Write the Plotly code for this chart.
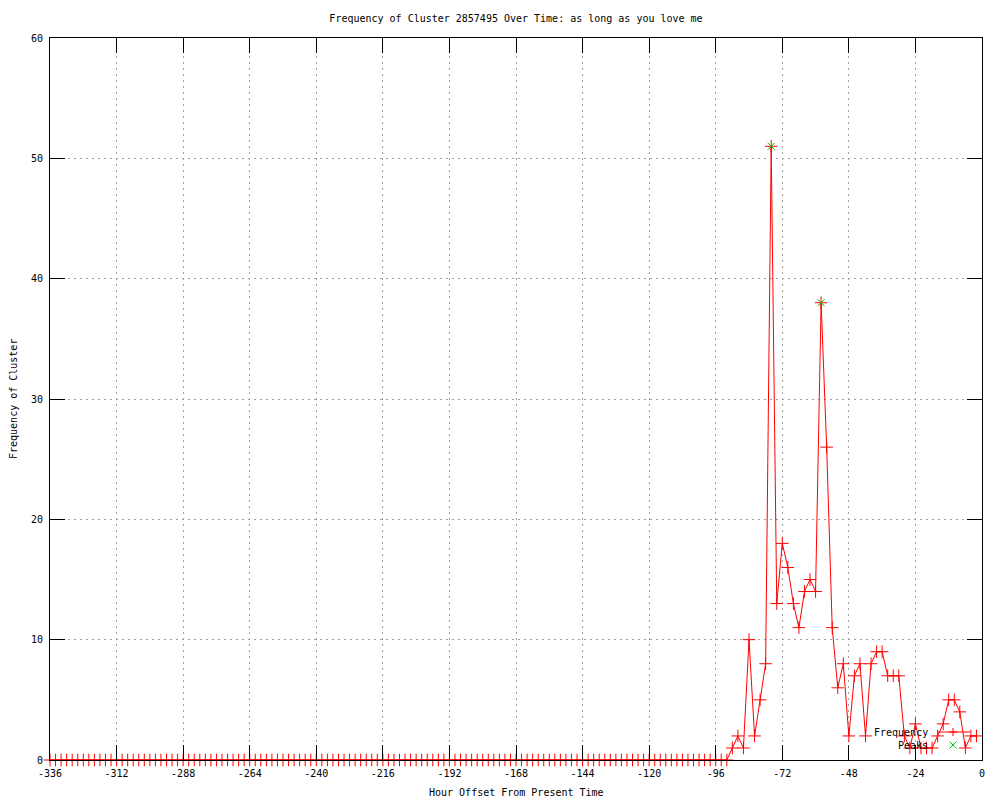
import plotly.graph_objects as go

# Hour offsets (every 2 hours) from -336 to -2
hours = [
    -336, -334, -332, -330, -328, -326, -324, -322, -320, -318, -316, -314,
    -312, -310, -308, -306, -304, -302, -300, -298, -296, -294, -292, -290,
    -288, -286, -284, -282, -280, -278, -276, -274, -272, -270, -268, -266,
    -264, -262, -260, -258, -256, -254, -252, -250, -248, -246, -244, -242,
    -240, -238, -236, -234, -232, -230, -228, -226, -224, -222, -220, -218,
    -216, -214, -212, -210, -208, -206, -204, -202, -200, -198, -196, -194,
    -192, -190, -188, -186, -184, -182, -180, -178, -176, -174, -172, -170,
    -168, -166, -164, -162, -160, -158, -156, -154, -152, -150, -148, -146,
    -144, -142, -140, -138, -136, -134, -132, -130, -128, -126, -124, -122,
    -120, -118, -116, -114, -112, -110, -108, -106, -104, -102, -100, -98,
    -96, -94, -92, -90, -88, -86, -84, -82, -80, -78, -76, -74,
    -72, -70, -68, -66, -64, -62, -60, -58, -56, -54, -52, -50,
    -48, -46, -44, -42, -40, -38, -36, -34, -32, -30, -28, -26,
    -24, -22, -20, -18, -16, -14, -12, -10, -8, -6, -4, -2,
]

frequency = [
    0, 0, 0, 0, 0, 0, 0, 0, 0, 0, 0, 0,
    0, 0, 0, 0, 0, 0, 0, 0, 0, 0, 0, 0,
    0, 0, 0, 0, 0, 0, 0, 0, 0, 0, 0, 0,
    0, 0, 0, 0, 0, 0, 0, 0, 0, 0, 0, 0,
    0, 0, 0, 0, 0, 0, 0, 0, 0, 0, 0, 0,
    0, 0, 0, 0, 0, 0, 0, 0, 0, 0, 0, 0,
    0, 0, 0, 0, 0, 0, 0, 0, 0, 0, 0, 0,
    0, 0, 0, 0, 0, 0, 0, 0, 0, 0, 0, 0,
    0, 0, 0, 0, 0, 0, 0, 0, 0, 0, 0, 0,
    0, 0, 0, 0, 0, 0, 0, 0, 0, 0, 0, 0,
    0, 0, 0, 1, 2, 1, 10, 2, 5, 8, 51, 13,
    18, 16, 13, 11, 14, 15, 14, 38, 26, 11, 6, 8,
    2, 7, 8, 2, 8, 9, 9, 7, 7, 7, 2, 1,
    3, 1, 1, 1, 2, 3, 5, 5, 4, 1, 2, 2,
]

peak_hours = [-76, -58]
peak_values = [51, 38]

x_tick_vals = [-336, -312, -288, -264, -240, -216, -192, -168, -144, -120, -96, -72, -48, -24, 0]
x_tick_text = ["-336", "-312", "-288", "-264", "-240", "-216", "-192", "-168", "-144",
               "-120", "-96", "-72", "-48", "-24", "0"]
y_tick_vals = [0, 10, 20, 30, 40, 50, 60]

title_text = "Frequency of Cluster 2857495 Over Time: as long as you love me"
x_title = "Hour Offset From Present Time"
y_title = "Frequency of Cluster"
legend_labels = ["Frequency", "Peaks"]

FONT = "DejaVu Sans Mono"
RED = "#ff0000"
GREEN = "#00c000"

# Plot area geometry in pixels (figure 1000x800)
L, R, T, B = 50, 18, 38, 40
PW, PH = 1000 - L - R, 800 - T - B


def px(xpix):
    return (xpix - L) / PW


def py(ypix):
    return (800 - B - ypix) / PH


fig = go.Figure()
fig.add_trace(go.Scatter(
    x=hours, y=frequency, name=legend_labels[0], mode="lines+markers",
    line=dict(color=RED, width=1),
    marker=dict(symbol="cross-thin-open", size=9, color=RED, line=dict(color=RED, width=1)),
    cliponaxis=False, showlegend=False,
))
fig.add_trace(go.Scatter(
    x=peak_hours, y=peak_values, name=legend_labels[1], mode="markers",
    marker=dict(symbol="x-thin-open", size=7, color=GREEN, line=dict(color=GREEN, width=1)),
    cliponaxis=False, showlegend=False,
))

axis_common = dict(
    showline=True, linecolor="black", linewidth=1, mirror="ticks",
    ticks="inside", ticklen=15, tickcolor="black", tickwidth=1,
    showgrid=True, gridcolor="#a0a0a0", gridwidth=1, griddash="2px,4px",
    zeroline=False, tickfont=dict(family=FONT, size=10, color="black"),
)

fig.update_xaxes(range=[-336, 0], tickvals=x_tick_vals, ticktext=x_tick_text,
                 ticklabelstandoff=4, **axis_common)
fig.update_yaxes(range=[0, 60], tickvals=y_tick_vals, ticklabelstandoff=4, **axis_common)

# Key (gnuplot style: text right-aligned, sample on the right)
key_text_x = 930
key_rows_y = [732, 745]
sample_x0, sample_x1, sample_mid = 938, 970, 953
shapes = [
    dict(type="line", xref="paper", yref="paper",
         x0=px(sample_x0), x1=px(sample_x1), y0=py(key_rows_y[0]), y1=py(key_rows_y[0]),
         line=dict(color=RED, width=1)),
    dict(type="line", xref="paper", yref="paper",
         x0=px(sample_mid - 4), x1=px(sample_mid + 4), y0=py(key_rows_y[0]), y1=py(key_rows_y[0]),
         line=dict(color=RED, width=1)),
    dict(type="line", xref="paper", yref="paper",
         x0=px(sample_mid), x1=px(sample_mid), y0=py(key_rows_y[0] - 4), y1=py(key_rows_y[0] + 4),
         line=dict(color=RED, width=1)),
    dict(type="line", xref="paper", yref="paper",
         x0=px(sample_mid - 3.5), x1=px(sample_mid + 3.5),
         y0=py(key_rows_y[1] - 3.5), y1=py(key_rows_y[1] + 3.5),
         line=dict(color=GREEN, width=1)),
    dict(type="line", xref="paper", yref="paper",
         x0=px(sample_mid - 3.5), x1=px(sample_mid + 3.5),
         y0=py(key_rows_y[1] + 3.5), y1=py(key_rows_y[1] - 3.5),
         line=dict(color=GREEN, width=1)),
]

annotations = [
    dict(text=x_title, xref="paper", yref="paper", x=0.5, y=py(793),
         xanchor="center", yanchor="middle", showarrow=False,
         font=dict(family=FONT, size=10, color="black")),
    dict(text=y_title, xref="paper", yref="paper", x=px(13), y=0.5,
         xanchor="center", yanchor="middle", textangle=-90, showarrow=False,
         font=dict(family=FONT, size=10, color="black")),
]
for label, ry in zip(legend_labels, key_rows_y):
    annotations.append(dict(text=label, xref="paper", yref="paper", x=px(key_text_x), y=py(ry),
                            xanchor="right", yanchor="middle", showarrow=False,
                            font=dict(family=FONT, size=10, color="black")))

fig.update_layout(
    width=1000, height=800,
    margin=dict(l=L, r=R, t=T, b=B, autoexpand=False),
    paper_bgcolor="white", plot_bgcolor="white",
    font=dict(family=FONT, size=10, color="black"),
    title=dict(text=title_text, x=0.5, xanchor="center", xref="paper",
               y=1 - 18 / 800, yref="container", yanchor="middle",
               font=dict(family=FONT, size=10, color="black")),
    showlegend=False,
    hovermode=False,
    shapes=shapes,
    annotations=annotations,
)

fig.write_html(
    "out.html",
    config={"displayModeBar": False, "staticPlot": True},
    post_script="document.body.style.margin='0';document.body.style.overflow='hidden';",
)
